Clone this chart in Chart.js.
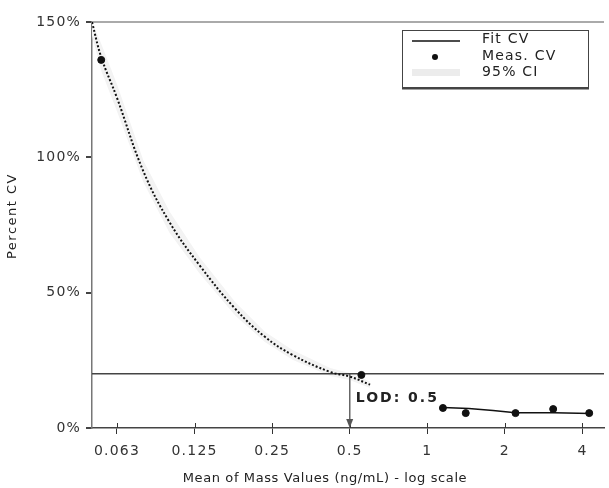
<!DOCTYPE html>
<html>
<head>
<meta charset="utf-8">
<script src="https://cdn.jsdelivr.net/npm/chart.js@4/dist/chart.umd.min.js"></script>
<style>
  html, body { margin: 0; padding: 0; background: #fff; }
  #wrap { width: 609px; height: 488px; }
</style>
</head>
<body>
<div id="wrap"><canvas id="cv" width="609" height="488"></canvas></div>
<script>
// x ticks (log scale) and y ticks
const xTickVals = [0.0625, 0.125, 0.25, 0.5, 1, 2, 4];
const xTickLabels = ["0.063", "0.125", "0.25", "0.5", "1", "2", "4"];
const yTickVals = [0, 50, 100, 150];
const yTickLabels = ["0%", "50%", "100%", "150%"];

// fitted CV curve (low range, dotted)
const fitX = [0.05, 0.0543, 0.0625, 0.079, 0.1, 0.131, 0.18, 0.235, 0.3, 0.42, 0.5, 0.6];
const fitY = [150, 137, 122, 95, 76, 60, 44, 33.6, 27, 20.7, 19, 16];
// 95% CI around the fit
const ciHiY = [150, 142, 127, 99, 80, 63, 46.5, 35.5, 28.8, 22.2, 20.3, 17.2];
const ciLoY = [145, 132, 117, 91, 72, 57, 41.5, 31.7, 25.2, 19.2, 17.7, 14.8];

// fitted CV in upper range (solid)
const fitHiX = [1.15, 1.45, 1.8, 2.2, 3.1, 4.3];
const fitHiY = [7.6, 7.2, 6.5, 5.6, 5.6, 5.4];

// measured CV
const measX = [0.0543, 0.555, 1.15, 1.41, 2.2, 3.08, 4.25];
const measY = [136, 19.6, 7.4, 5.5, 5.5, 7, 5.5];

const cvLimit = 20;
const lodValue = 0.5;
const lodText = "LOD: 0.5";
const xTitle = "Mean of Mass Values (ng/mL) - log scale";
const yTitle = "Percent CV";

const xMin = 0.05, xMax = 4.85;

const pts = (xs, ys) => xs.map((x, i) => ({ x: x, y: ys[i] }));

const fontTick = { family: "DejaVu Sans", size: 14 };

const extras = {
  id: "extras",
  beforeDraw(chart) {
    // the source picture has wide lettering
    chart.ctx.letterSpacing = "1.2px";
  },
  afterDatasetsDraw(chart) {
    const { ctx, scales } = chart;
    const xs = scales.x, ys = scales.y;
    ctx.save();
    // x tick marks poke into the plot a little
    ctx.strokeStyle = "#333";
    ctx.lineWidth = 1;
    const y0 = ys.getPixelForValue(0);
    xTickVals.forEach(v => {
      const px = Math.round(xs.getPixelForValue(v)) + 0.5;
      ctx.beginPath();
      ctx.moveTo(px, y0 - 5);
      ctx.lineTo(px, y0);
      ctx.stroke();
    });

    // arrow head for LOD
    const ax = xs.getPixelForValue(lodValue);
    ctx.fillStyle = "#555";
    ctx.beginPath();
    ctx.moveTo(ax, y0);
    ctx.lineTo(ax - 3.5, y0 - 9);
    ctx.lineTo(ax + 3.5, y0 - 9);
    ctx.closePath();
    ctx.fill();
    // LOD label
    ctx.letterSpacing = "2px";
    ctx.font = "bold 14px 'DejaVu Sans'";
    ctx.fillStyle = "#222";
    ctx.textAlign = "left";
    ctx.textBaseline = "middle";
    ctx.fillText(lodText, ax + 6, ys.getPixelForValue(11));

    // axis titles
    ctx.letterSpacing = "0.6px";
    ctx.font = "13px 'DejaVu Sans'";
    ctx.textAlign = "center";
    ctx.fillText(xTitle, 325, 479);
    ctx.save();
    ctx.translate(13, 216);
    ctx.rotate(-Math.PI / 2);
    ctx.letterSpacing = "1.5px";
    ctx.fillText(yTitle, 0, 0);
    ctx.restore();

    // legend box
    const lx = 402, ly = 30, lw = 186, lh = 57;
    ctx.fillStyle = "#fff";
    ctx.fillRect(lx, ly, lw, lh);
    ctx.strokeStyle = "#444";
    ctx.lineWidth = 1;
    ctx.strokeRect(lx + 0.5, ly + 0.5, lw, lh);
    ctx.lineWidth = 2;
    ctx.beginPath();
    ctx.moveTo(lx, ly + lh + 1.5);
    ctx.lineTo(lx + lw + 1, ly + lh + 1.5);
    ctx.stroke();

    ctx.strokeStyle = "#111";
    ctx.lineWidth = 1.5;
    ctx.beginPath();
    ctx.moveTo(412, 41);
    ctx.lineTo(460, 41);
    ctx.stroke();
    ctx.fillStyle = "#111";
    ctx.beginPath();
    ctx.arc(435, 57, 3, 0, Math.PI * 2);
    ctx.fill();
    ctx.fillStyle = "#ececec";
    ctx.fillRect(412, 69, 48, 7);

    ctx.letterSpacing = "1.2px";
    ctx.font = "14px 'DejaVu Sans'";
    ctx.fillStyle = "#222";
    ctx.textAlign = "left";
    ctx.fillText("Fit CV", 482, 39);
    ctx.fillText("Meas. CV", 482, 56);
    ctx.fillText("95% CI", 482, 72);
    ctx.restore();
  }
};

new Chart(document.getElementById("cv"), {
  type: "scatter",
  data: {
    datasets: [
      {
        label: "95% CI hi",
        data: pts(fitX, ciHiY),
        showLine: true,
        pointRadius: 0,
        borderWidth: 0,
        borderColor: "rgba(0,0,0,0)",
        backgroundColor: "#f3f3f3",
        fill: "+1",
        order: 10
      },
      {
        label: "95% CI lo",
        data: pts(fitX, ciLoY),
        showLine: true,
        pointRadius: 0,
        borderWidth: 0,
        borderColor: "rgba(0,0,0,0)",
        fill: false,
        order: 10
      },
      {
        label: "limit",
        data: [{ x: xMin, y: cvLimit }, { x: xMax, y: cvLimit }],
        showLine: true,
        pointRadius: 0,
        borderColor: "#444",
        borderWidth: 1.5,
        order: 5
      },
      {
        label: "LOD",
        data: [{ x: lodValue, y: cvLimit }, { x: lodValue, y: 1 }],
        showLine: true,
        pointRadius: 0,
        borderColor: "#666",
        borderWidth: 1,
        order: 5
      },
      {
        label: "Fit CV",
        data: pts(fitX, fitY),
        showLine: true,
        pointRadius: 0,
        borderColor: "#111",
        borderWidth: 2,
        borderDash: [2, 2],
        tension: 0.4,
        order: 3
      },
      {
        label: "Fit CV hi",
        data: pts(fitHiX, fitHiY),
        showLine: true,
        pointRadius: 0,
        borderColor: "#111",
        borderWidth: 1.5,
        order: 3
      },
      {
        label: "Meas. CV",
        data: pts(measX, measY),
        showLine: false,
        pointRadius: 3.5,
        pointBackgroundColor: "#111",
        pointBorderColor: "#111",
        order: 1
      }
    ]
  },
  options: {
    responsive: false,
    animation: false,
    layout: { padding: { top: 22, right: 0, left: 0, bottom: 0 } },
    plugins: { legend: { display: false }, tooltip: { enabled: false } },
    scales: {
      x: {
        type: "logarithmic",
        min: xMin,
        max: xMax,
        afterBuildTicks: s => { s.ticks = xTickVals.map(v => ({ value: v })); },
        afterFit: s => { s.height = 60; },
        ticks: {
          autoSkip: false,
          maxRotation: 0,
          padding: 9,
          color: "#333",
          font: fontTick,
          callback: (v, i) => xTickLabels[i]
        },
        grid: { drawOnChartArea: false, tickLength: 6, tickColor: "#333", color: "#333" },
        border: { color: "#444", width: 1.5 }
      },
      y: {
        min: 0,
        max: 150,
        afterBuildTicks: s => { s.ticks = yTickVals.map(v => ({ value: v })); },
        afterFit: s => { s.width = 92; },
        ticks: {
          padding: 5,
          color: "#333",
          font: fontTick,
          callback: (v, i) => yTickLabels[i]
        },
        grid: {
          color: c => (c.tick && c.tick.value === 150 ? "#aaa" : "rgba(0,0,0,0)"),
          lineWidth: 2,
          tickLength: 6,
          tickColor: "#444"
        },
        border: { color: "#777", width: 1.5 }
      }
    }
  },
  plugins: [extras]
});
</script>
</body>
</html>
